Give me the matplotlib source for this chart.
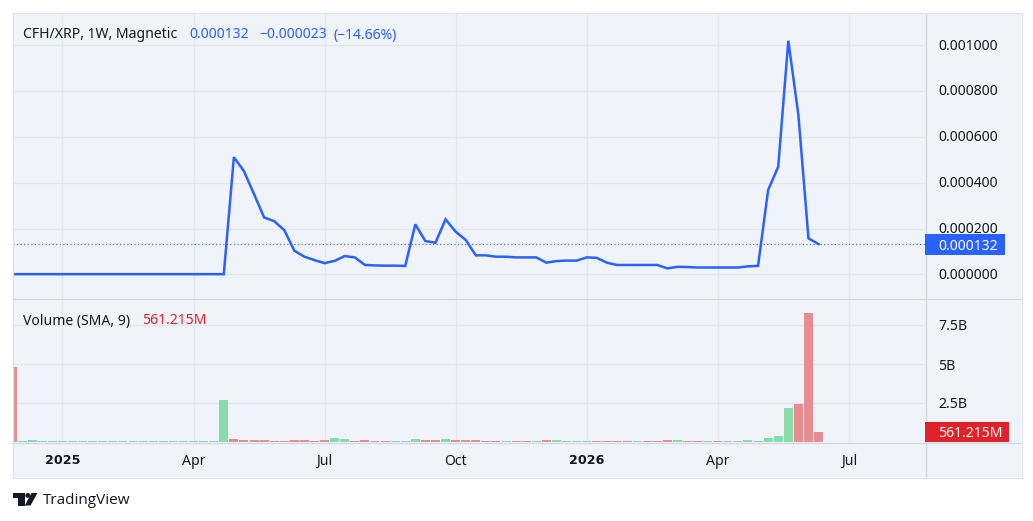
"""Weekly CFH/XRP line with a volume pane below it, saved to out.png"""

import matplotlib
matplotlib.use('Agg')
import matplotlib.pyplot as plt
from matplotlib.lines import Line2D
from matplotlib.patches import Circle, Polygon, Rectangle
from matplotlib.transforms import Affine2D, blended_transform_factory

W, H = 1033, 521

# weekly close, one value per bar
close = [
    0.000001, 0.000001, 0.000001, 0.000001, 0.000001, 0.000001, 0.000001,
    0.000001, 0.000001, 0.000001, 0.000001, 0.000001, 0.000001, 0.000001,
    0.000001, 0.000001, 0.000001, 0.000001, 0.000001, 0.000001, 0.000001,
    0.000001, 0.000511, 0.000450, 0.000350, 0.000248, 0.000232, 0.000193,
    0.000103, 0.000077, 0.000062, 0.000049, 0.000059, 0.000080, 0.000074,
    0.000041, 0.000039, 0.000038, 0.000038, 0.000037, 0.000218, 0.000145,
    0.000138, 0.000240, 0.000186, 0.000150, 0.000083, 0.000083, 0.000077,
    0.000077, 0.000074, 0.000074, 0.000074, 0.000051, 0.000058, 0.000060,
    0.000060, 0.000074, 0.000072, 0.000051, 0.000041, 0.000041, 0.000041,
    0.000041, 0.000041, 0.000026, 0.000033, 0.000032, 0.000030, 0.000030,
    0.000030, 0.000030, 0.000030, 0.000035, 0.000037, 0.000368, 0.000469,
    0.001019, 0.000695, 0.000157, 0.000132,
]

# weekly volume in billions
volume = [
    4.8, 0.065, 0.13, 0.065, 0.065, 0.065, 0.065, 0.065, 0.065, 0.065,
    0.065, 0.065, 0.065, 0.065, 0.065, 0.065, 0.065, 0.065, 0.065, 0.065,
    0.065, 2.69, 0.19, 0.13, 0.13, 0.13, 0.065, 0.065, 0.13, 0.13,
    0.065, 0.13, 0.25, 0.19, 0.065, 0.13, 0.065, 0.065, 0.065, 0.065,
    0.19, 0.13, 0.13, 0.19, 0.13, 0.13, 0.13, 0.065, 0.065, 0.065,
    0.065, 0.065, 0.065, 0.13, 0.13, 0.065, 0.065, 0.065, 0.065, 0.065,
    0.065, 0.065, 0.065, 0.065, 0.065, 0.13, 0.13, 0.065, 0.065, 0.065,
    0.065, 0.065, 0.065, 0.13, 0.065, 0.26, 0.385, 2.18, 2.44, 8.27, 0.64,
]

# u = green bar, d = red bar
direction = list(
    'd' + 'u' * 21 + 'd' * 10 + 'uu' + 'dddd' + 'uuu' + 'dd' + 'u' + 'ddddd'
    + 'u' + 'dd' + 'u' + 'd' + 'uuuu' + 'dddd' + 'u' + 'ddd' + 'u' + 'dd'
    + 'u' + 'd' + 'uuuuuuu' + 'ddd'
)

price_ticks = [0.0, 0.0002, 0.0004, 0.0006, 0.0008, 0.001]
price_labels = ['0.000000', '0.000200', '0.000400', '0.000600', '0.000800', '0.001000']
volume_ticks = [2.5, 5, 7.5]
volume_labels = ['2.5B', '5B', '7.5B']
month_ticks = [5, 18, 31, 44, 57, 70, 83]
month_labels = ['2025', 'Apr', 'Jul', 'Oct', '2026', 'Apr', 'Jul']

last_price = 0.000132
sma_volume = 0.561215

BG = '#f0f3fa'
GRID = '#e3e7ef'
EDGE = '#e0e3eb'
SCALE = '#d3d7df'
INK = '#131722'
BLUE = '#2962ff'
RED = '#e02329'
GREEN_BAR = '#88dcab'
RED_BAR = '#e68d91'
FONT = 10.08

plt.rcParams['font.family'] = ['Noto Sans', 'DejaVu Sans']

fig = plt.figure(figsize=(W / 100, H / 100), dpi=100, facecolor='white')

# transform for things laid out in screen pixels, y going down
px = Affine2D().scale(1 / W, -1 / H).translate(0, 1) + fig.transFigure


def pane(top, bottom):
    """Axes spanning the plot width between two pixel rows"""
    ax = fig.add_axes([13 / W, 1 - bottom / H, (925 - 13) / W, (bottom - top) / H])
    ax.set_facecolor(BG)
    for spine in ax.spines.values():
        spine.set_visible(False)
    ax.set_axisbelow(True)
    ax.grid(True, color=GRID, lw=0.9)
    ax.yaxis.tick_right()
    ax.tick_params(axis='both', length=0, labelsize=FONT, labelcolor=INK)
    ax.tick_params(axis='y', pad=9.4)
    ax.set_xlim(0.09, 90.56)
    ax.set_xticks(month_ticks)
    return ax


def legend(x, y, text, color):
    fig.text(x, y, text, transform=px, color=color, fontsize=FONT, va='center_baseline')


fig.add_artist(Rectangle((13, 13), 1008, 464, transform=px, fc=BG, ec='none', zorder=-1))
# scale separator sits under the axes so the tags can cover it
fig.add_artist(Line2D([925.5, 925.5], [13, 477], transform=px, color=SCALE, lw=0.9, zorder=-0.5))

# price pane
ax_price = pane(13, 298)
ax_price.set_ylim(-0.000103, 0.0011396)
ax_price.set_yticks(price_ticks)
ax_price.set_yticklabels(price_labels)
ax_price.tick_params(axis='x', labelbottom=False)
for lab in ax_price.get_yticklabels():
    lab.set_transform(lab.get_transform() + Affine2D().translate(0, 1))
weeks = list(range(len(close)))
ax_price.plot(weeks, close, color=BLUE, lw=1.8, solid_joinstyle='miter', zorder=3)
ax_price.axhline(last_price, color=BLUE, lw=0.8, ls=(0, (1, 2.2)), zorder=2)

# price tag on the scale
tag_tr = blended_transform_factory(px, ax_price.transData)
per_px = (0.0011396 + 0.000103) / 285
ax_price.add_patch(Rectangle((925, last_price - 10.5 * per_px), 80, 21 * per_px,
                             transform=tag_tr, fc=BLUE, ec='none', clip_on=False, zorder=5))
ax_price.text(938, last_price, '0.000132', transform=tag_tr, color='white', fontsize=FONT,
              va='center_baseline', ha='left', clip_on=False, zorder=6)

# volume pane
ax_vol = pane(298, 442)
ax_vol.set_ylim(0, 144 / 15.6)
ax_vol.set_yticks(volume_ticks)
ax_vol.set_yticklabels(volume_labels)
ax_vol.set_xticklabels(month_labels)
ax_vol.tick_params(axis='x', pad=8.5)
# year labels are bold
for lab, name in zip(ax_vol.get_xticklabels(), month_labels):
    if name.startswith('20'):
        lab.set_family('DejaVu Sans')
        lab.set_fontweight('bold')
        lab.set_fontsize(9.2)
bar_colors = [GREEN_BAR if d == 'u' else RED_BAR for d in direction]
ax_vol.bar(weeks, volume, width=0.89, color=bar_colors, zorder=3)

# volume average tag
tag_tr = blended_transform_factory(px, ax_vol.transData)
ax_vol.add_patch(Rectangle((925, 0), 84, 20 / 15.6, transform=tag_tr, fc=RED, ec='none',
                           clip_on=False, zorder=5))
ax_vol.text(938, sma_volume + 0.08, '561.215M', transform=tag_tr, color='white', fontsize=FONT,
            va='center_baseline', ha='left', clip_on=False, zorder=6)

# pane separators and outer frame
for x0, y0, x1, y1, col in [
    (13, 298.5, 1021, 298.5, SCALE),
    (13, 442.5, 1021, 442.5, SCALE),
    (12.5, 12.5, 1021.5, 12.5, EDGE),
    (12.5, 477.5, 1021.5, 477.5, EDGE),
    (12.5, 12.5, 12.5, 477.5, EDGE),
    (1021.5, 12.5, 1021.5, 477.5, EDGE),
]:
    fig.add_artist(Line2D([x0, x1], [y0, y1], transform=px, color=col, lw=0.9, zorder=3))

# legends
legend(23, 33, 'CFH/XRP, 1W, Magnetic', INK)
legend(189, 33, '0.000132', BLUE)
legend(259, 33, '\u22120.000023', BLUE)
legend(333, 33, '(\u221214.66%)', BLUE)
legend(23, 319, 'Volume (SMA, 9)', INK)
legend(142, 319, '561.215M', RED)

# logo
fig.add_artist(Polygon([(13, 493), (24.5, 493), (24.5, 505.5), (18, 505.5), (18, 497.5), (13, 497.5)],
                       transform=px, fc=INK, ec='none', zorder=3))
fig.add_artist(Circle((27.8, 495.4), 2.4, transform=px, fc=INK, ec='none', zorder=3))
fig.add_artist(Polygon([(31.5, 493), (37.5, 493), (30.5, 505.5), (24.8, 505.5)],
                       transform=px, fc=INK, ec='none', zorder=3))
fig.text(42.5, 500.5, 'TradingView', transform=px, color=INK, fontsize=11, va='center',
         family='Open Sans')

fig.savefig('out.png', dpi=100)
